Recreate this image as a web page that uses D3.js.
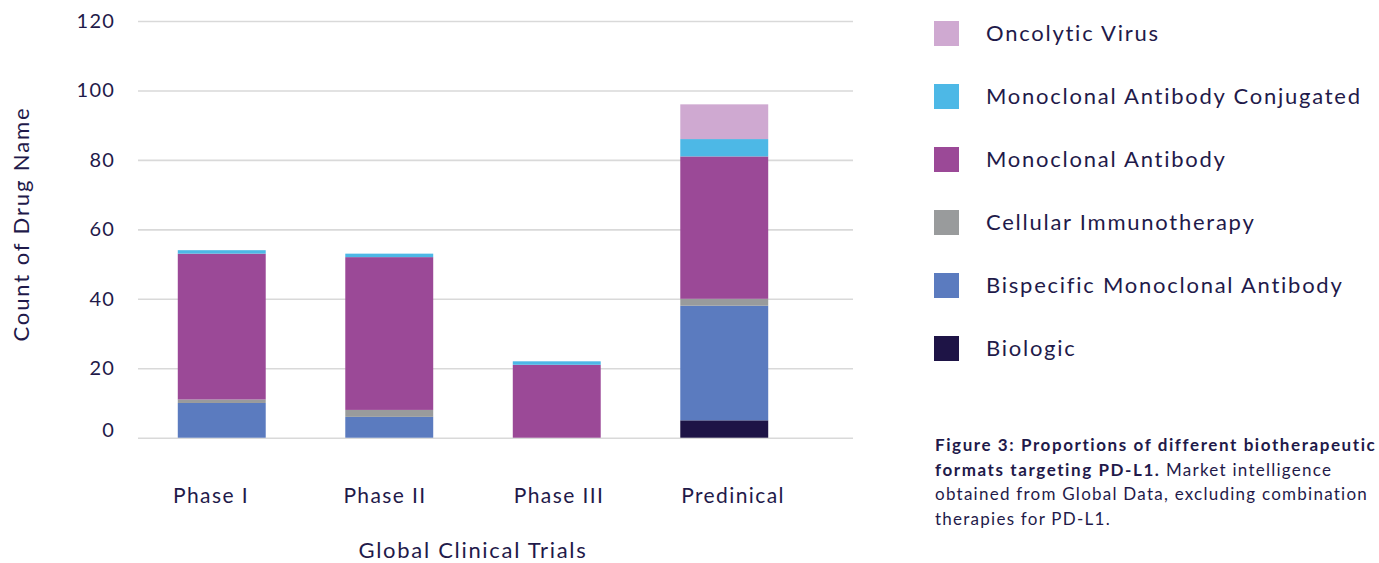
<!DOCTYPE html>
<html>
<head>
<meta charset="utf-8">
<script src="https://cdn.jsdelivr.net/npm/d3@7"></script>
<style>
  html, body { margin: 0; padding: 0; background: #ffffff; }
  svg { display: block; }
  text { font-family: Lato, "Noto Sans", sans-serif; fill: #1f1a4a; }
</style>
</head>
<body>
<svg id="chart" width="1379" height="563"></svg>
<script>
// ---- data ----
const categories = ["Phase I", "Phase II", "Phase III", "Predinical"];
const seriesNames = ["Biologic", "Bispecific Monoclonal Antibody", "Cellular Immunotherapy",
  "Monoclonal Antibody", "Monoclonal Antibody Conjugated", "Oncolytic Virus"];
const biologic      = [0, 0, 0, 5];
const bispecific    = [10, 6, 0, 33];
const cellular      = [1, 2, 0, 2];
const monoclonal    = [42, 44, 21, 41];
const mabConjugated = [1, 1, 1, 5];
const oncolytic     = [0, 0, 0, 10];
const yTicks = [0, 20, 40, 60, 80, 100, 120];
const colors = ["#1e1446", "#5b7bbf", "#999b9c", "#9b4997", "#4db8e6", "#cfa9d1"];
const xTitle = "Global Clinical Trials";
const yTitle = "Count of Drug Name";
const captionBold = ["Figure 3: Proportions of different biotherapeutic", "formats targeting PD-L1."];
const captionRest = [" Market intelligence", "obtained from Global Data, excluding combination", "therapies for PD-L1."];

// ---- build table ----
const seriesValues = [biologic, bispecific, cellular, monoclonal, mabConjugated, oncolytic];
const table = categories.map((c, i) => {
  const row = { cat: c };
  seriesNames.forEach((s, j) => row[s] = seriesValues[j][i]);
  return row;
});
const stacked = d3.stack().keys(seriesNames)(table);

const svg = d3.select("#chart");
const y = d3.scaleLinear().domain([0, 120]).range([437.7, 21]);
const xBars = d3.scaleBand().domain(categories).range([138, 808]).paddingInner(0.475).paddingOuter(0.2375);
const xLabels = d3.scaleBand().domain(categories).range([124, 820]);
const color = d3.scaleOrdinal().domain(seriesNames).range(colors);

// gridlines
const grid = svg.append("g")
  .call(d3.axisLeft(y).tickValues(yTicks).tickSize(-(853 - 138)).tickFormat(""))
  .attr("transform", "translate(138,0)");
grid.select(".domain").remove();
grid.selectAll("line").attr("stroke", "#d9d9d9").attr("stroke-width", 1.6);

// y tick labels
const yAx = svg.append("g").attr("transform", "translate(115,0)")
  .call(d3.axisLeft(y).tickValues(yTicks).tickSize(0).tickPadding(0));
yAx.select(".domain").remove();
yAx.selectAll("text").attr("font-size", 20).style("font-family", "Lato, sans-serif").attr("fill", "#1f1a4a")
  .style("letter-spacing", "1.2px")
  .attr("dy", d => d === 0 ? "-0.05em" : "0.32em");

// bars
svg.append("g").selectAll("g").data(stacked).join("g")
  .attr("fill", d => color(d.key))
  .selectAll("rect").data(d => d).join("rect")
  .attr("x", d => xBars(d.data.cat))
  .attr("width", xBars.bandwidth())
  .attr("y", d => y(d[1]))
  .attr("height", d => y(d[0]) - y(d[1]));

// x labels
const xAx = svg.append("g").attr("transform", "translate(0,496)")
  .call(d3.axisBottom(xLabels).tickSize(0).tickPadding(0));
xAx.select(".domain").remove();
xAx.selectAll("text").attr("font-size", 21).style("font-family", "Lato, sans-serif").attr("fill", "#1f1a4a")
  .style("letter-spacing", "1.4px")
  .attr("dy", "0.35em");

// axis titles
svg.append("text").attr("x", 473).attr("y", 550).attr("dy", "0.35em").attr("text-anchor", "middle")
  .attr("font-size", 22).style("letter-spacing", "1.7px").text(xTitle);
svg.append("text").attr("transform", "translate(21,224) rotate(-90)").attr("dy", "0.35em")
  .attr("text-anchor", "middle").attr("font-size", 22).style("letter-spacing", "1.9px").text(yTitle);

// legend
const legendOrder = seriesNames.slice().reverse();
const ly = d3.scalePoint().domain(legendOrder).range([33.5, 348.5]);
const lg = svg.append("g").selectAll("g").data(legendOrder).join("g")
  .attr("transform", d => `translate(934,${ly(d)})`);
lg.append("rect").attr("x", 0).attr("y", -12.5).attr("width", 25).attr("height", 25).attr("fill", d => color(d));
lg.append("text").attr("x", 52).attr("dy", "0.35em").attr("font-size", 22)
  .style("letter-spacing", "1.75px").text(d => d);

// caption
const cap = svg.append("text").attr("x", 935).attr("y", 445).attr("font-size", 17);
const lines = [
  [{t: captionBold[0], b: true}],
  [{t: captionBold[1], b: true}, {t: captionRest[0], b: false}],
  [{t: captionRest[1], b: false}],
  [{t: captionRest[2], b: false}]
];
lines.forEach((parts, i) => {
  parts.forEach((p, k) => {
    const ts = cap.append("tspan").text(p.t).attr("font-weight", p.b ? 700 : 400)
      .style("letter-spacing", p.b ? "1.58px" : "1.25px");
    if (k === 0) ts.attr("x", 935).attr("y", 445 + i * 24.7).attr("dy", "0.35em");
  });
});
</script>
</body>
</html>
